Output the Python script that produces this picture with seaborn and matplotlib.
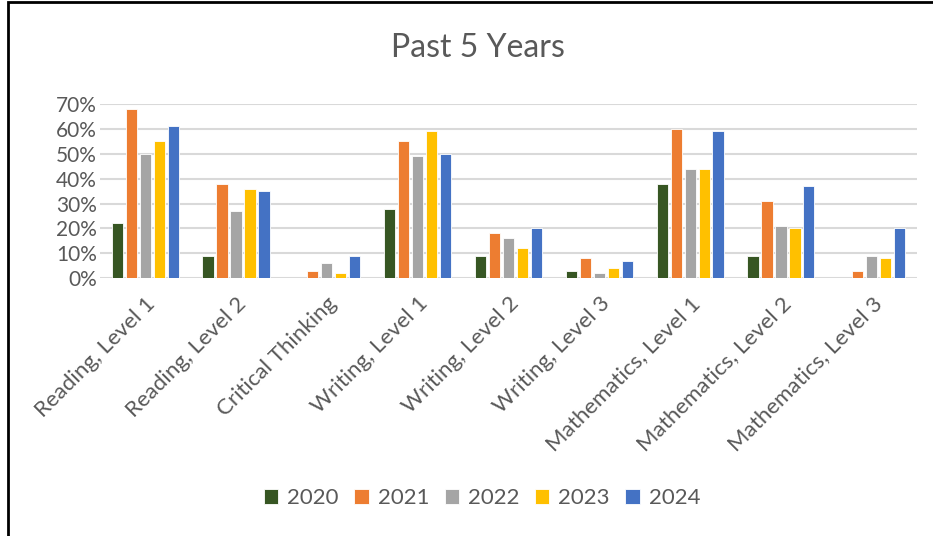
import matplotlib
matplotlib.use("Agg")
import matplotlib.pyplot as plt
import seaborn as sns
import pandas as pd
from matplotlib.ticker import PercentFormatter
from matplotlib.patches import Rectangle

categories = ["Reading, Level 1", "Reading, Level 2", "Critical Thinking",
              "Writing, Level 1", "Writing, Level 2", "Writing, Level 3",
              "Mathematics, Level 1", "Mathematics, Level 2", "Mathematics, Level 3"]
years = ["2020", "2021", "2022", "2023", "2024"]
v2020 = [22, 9, 0, 28, 9, 3, 38, 9, 0]
v2021 = [68, 38, 3, 55, 18, 8, 60, 31, 3]
v2022 = [50, 27, 6, 49, 16, 2, 44, 21, 9]
v2023 = [55, 36, 2, 59, 12, 4, 44, 20, 8]
v2024 = [61, 35, 9, 50, 20, 7, 59, 37, 20]
colors = ["#375623", "#ED7D31", "#A5A5A5", "#FFC000", "#4472C4"]

rows = []
for y, vals in zip(years, [v2020, v2021, v2022, v2023, v2024]):
    for c, v in zip(categories, vals):
        rows.append({"Category": c, "Year": y, "Value": v / 100})
df = pd.DataFrame(rows)

sns.set_theme(style="white")
plt.rcParams['font.family'] = ['Lato', 'DejaVu Sans']
text_color = "#595959"

fig = plt.figure(figsize=(9.33, 5.36), dpi=100)
ax = fig.add_axes([0.107, 0.481, 0.876, 0.325])

sns.barplot(data=df, x="Category", y="Value", hue="Year", order=categories,
            hue_order=years, palette=colors, saturation=1, width=0.77, gap=0.2,
            edgecolor="white", linewidth=0.6, ax=ax, legend=True)

ax.set_ylim(0, 0.7)
ax.set_yticks([i / 10 for i in range(8)])
ax.yaxis.set_major_formatter(PercentFormatter(1.0, decimals=0))
ax.yaxis.grid(True, color="#D9D9D9", linewidth=1.5)
ax.set_axisbelow(True)
for s in ax.spines.values():
    s.set_visible(False)
ax.set_xlabel("")
ax.set_ylabel("")
ax.tick_params(axis="y", length=0, labelsize=15, labelcolor=text_color, pad=2)
ax.tick_params(axis="x", length=0, labelsize=16, labelcolor=text_color, pad=11)
plt.setp(ax.get_xticklabels(), rotation=45, ha="right", rotation_mode="anchor")

fig.text(478 / 933, 1 - 48 / 536, "Past 5 Years", fontsize=23, color=text_color,
         ha="center", va="center")

handles, labels = ax.get_legend_handles_labels()
ax.legend_.remove()
fig.legend(handles, labels, loc="center", bbox_to_anchor=(482 / 933, 1 - 498 / 536), ncol=5,
           frameon=False, fontsize=16, labelcolor=text_color,
           handlelength=0.65, handleheight=0.65, handletextpad=0.4, columnspacing=0.7)

fig.patches.append(Rectangle((8 / 933, -0.1), 1.2, 1.0 - 1.5 / 536 + 0.1,
                             transform=fig.transFigure, fill=False,
                             edgecolor="black", linewidth=2, figure=fig))

fig.savefig("out.png", dpi=100)
